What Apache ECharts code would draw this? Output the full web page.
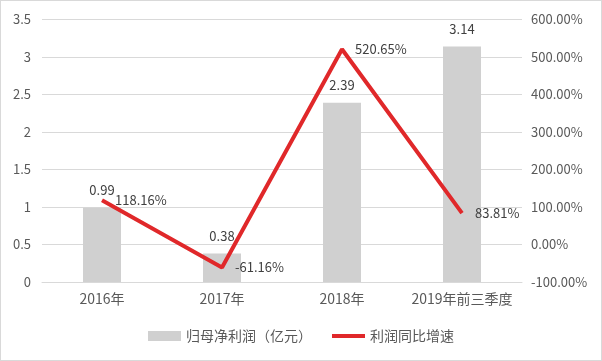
<!DOCTYPE html>
<html><head><meta charset="utf-8">
<script src="https://cdn.jsdelivr.net/npm/echarts@6/dist/echarts.min.js"></script>
<style>html,body{margin:0;padding:0;background:#fff}#c{width:602px;height:361px;box-sizing:border-box;border:1px solid #d9d9d9}</style>
</head><body><div id="c"></div>
<script>
const categories = ['2016年','2017年','2018年','2019年前三季度'];
const profit = [0.99, 0.38, 2.39, 3.14];
const growth = [118.16, -61.16, 520.65, 83.81];
const barName = '归母净利润（亿元）';
const lineName = '利润同比增速';
const font = '"Noto Sans CJK SC", "Microsoft YaHei", sans-serif';
const txt = '#595959';
const chart = echarts.init(document.getElementById('c'));
chart.setOption({
  animation:false,
  textStyle:{fontFamily:font},
  grid:{left:41,right:79,top:18.5,bottom:78},
  legend:{bottom:12,left:'center',itemGap:18,textStyle:{color:txt,fontSize:14,fontFamily:font},
    data:[{name:barName,icon:'rect',itemStyle:{color:'#d0d0d0'}},
          {name:lineName,itemStyle:{opacity:0},lineStyle:{color:'#e0282a',width:4,opacity:1}}],
    itemWidth:33,itemHeight:10},
  xAxis:{type:'category',data:categories,axisTick:{show:false},
    axisLine:{lineStyle:{color:'#d9d9d9'}},
    axisLabel:{color:txt,fontSize:14,margin:10,interval:0,fontFamily:font}},
  yAxis:[
    {type:'value',min:0,max:3.5,interval:0.5,axisLabel:{color:txt,fontSize:13,margin:11,fontFamily:font},
      splitLine:{lineStyle:{color:'#d9d9d9'}},axisLine:{show:false},axisTick:{show:false}},
    {type:'value',min:-100,max:600,interval:100,axisLabel:{color:txt,fontSize:13,margin:9,fontFamily:font,
      formatter:v=>v.toFixed(2)+'%'},splitLine:{show:false},axisLine:{show:false},axisTick:{show:false}}
  ],
  series:[
    {name:barName,type:'bar',data:profit,barWidth:38,itemStyle:{color:'#d0d0d0'},
      label:{show:true,position:'top',distance:11,color:'#404040',fontSize:13,fontFamily:font}},
    {name:lineName,type:'line',yAxisIndex:1,data:growth,symbol:'circle',symbolSize:0,
      lineStyle:{color:'#e0282a',width:4},itemStyle:{color:'#e0282a'},
      labelLayout:{hideOverlap:false},
      label:{show:true,position:'right',distance:13,color:'#404040',fontSize:13,fontFamily:font,
        formatter:p=>p.value.toFixed(2)+'%'}}
  ]
});
</script></body></html>
